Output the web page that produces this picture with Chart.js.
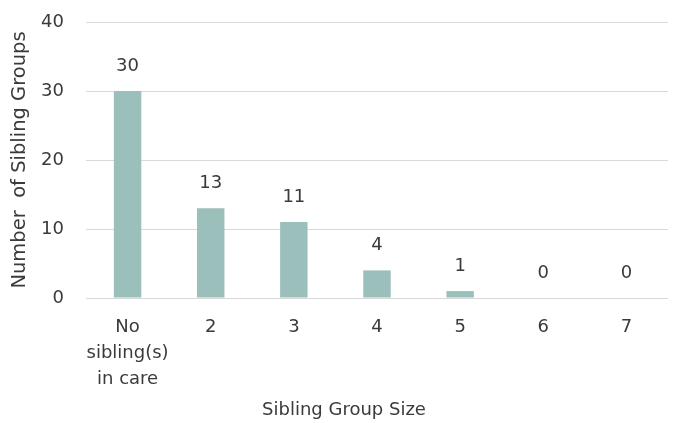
<!DOCTYPE html>
<html>
<head>
<meta charset="utf-8">
<script src="https://cdn.jsdelivr.net/npm/chart.js@4"></script>
<style>
  html, body { margin: 0; padding: 0; background: #fff; }
  #wrap { width: 674px; height: 423px; }
</style>
</head>
<body>
<div id="wrap"><canvas id="siblingChart" width="674" height="423"></canvas></div>
<script>
const categories = [['No', 'sibling(s)', 'in care'], '2', '3', '4', '5', '6', '7'];
const groupCounts = [30, 13, 11, 4, 1, 0, 0];
const yTicks = [0, 10, 20, 30, 40];

const textColor = '#3a3a3a';
const fontFamily = "'DejaVu Sans', sans-serif";

// escreve o valor acima de cada barra e o titulo do eixo x
const valueLabels = {
    id: 'valueLabels',
    afterDatasetsDraw(chart) {
        const ctx = chart.ctx;
        const meta = chart.getDatasetMeta(0);
        ctx.save();
        ctx.font = '18px ' + fontFamily;
        ctx.fillStyle = textColor;
        ctx.textAlign = 'center';
        ctx.textBaseline = 'middle';
        meta.data.forEach((bar, i) => {
            ctx.fillText(String(groupCounts[i]), bar.x, bar.y - 25);
        });
        ctx.fillText('Sibling Group Size', chart.width / 2 + 7, 410);
        ctx.restore();
    }
};

new Chart(document.getElementById('siblingChart').getContext('2d'), {
    type: 'bar',
    data: {
        labels: categories,
        datasets: [{
            data: groupCounts,
            backgroundColor: '#9bbfbb',
            borderWidth: 0,
            categoryPercentage: 1,
            barPercentage: 0.33
        }]
    },
    options: {
        responsive: false,
        animation: false,
        events: [],
        layout: { padding: { top: 22, right: 6, left: 0, bottom: 0 } },
        plugins: {
            legend: { display: false },
            tooltip: { enabled: false }
        },
        scales: {
            x: {
                grid: { display: false },
                border: { display: false },
                ticks: {
                    color: textColor,
                    font: { family: fontFamily, size: 18, lineHeight: 1.42 },
                    padding: 9,
                    maxRotation: 0,
                    autoSkip: false
                },
                afterFit(scale) { scale.height = 125; }
            },
            y: {
                min: 0,
                max: 40,
                afterBuildTicks(scale) { scale.ticks = yTicks.map(v => ({ value: v })); },
                grid: { color: '#d9d9d9', lineWidth: 1, drawTicks: false },
                border: { display: false },
                ticks: {
                    color: textColor,
                    font: { family: fontFamily, size: 18 },
                    padding: 22
                },
                title: {
                    display: true,
                    text: 'Number  of Sibling Groups',
                    color: textColor,
                    font: { family: fontFamily, size: 19.5 },
                    padding: { top: 8, bottom: 0 }
                },
                afterFit(scale) {
                    scale.width = 86;
                    scale.paddingTop = 0;
                    scale.paddingBottom = 0;
                }
            }
        }
    },
    plugins: [valueLabels]
});
</script>
</body>
</html>
